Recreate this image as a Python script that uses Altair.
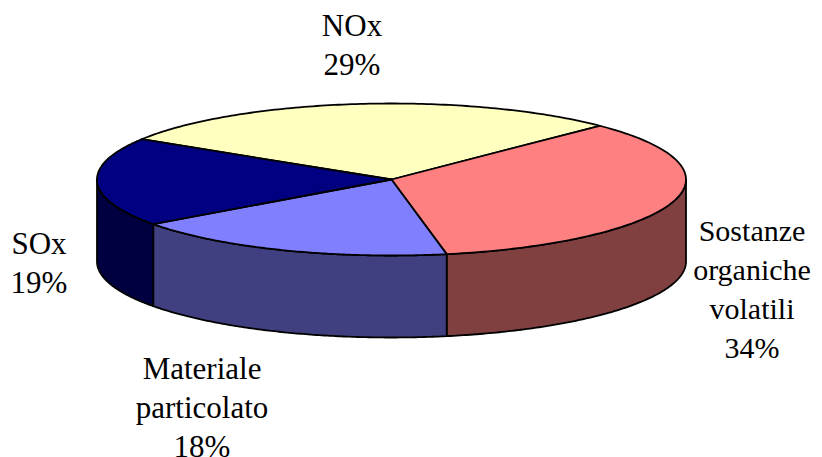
import numpy as np
import altair as alt

parts = ["NOx", "Sostanze organiche volatili", "Materiale particolato", "SOx"]
shares = [28.6, 34.5, 18.0, 18.9]
label_lines = ["NOx\n29%", "Sostanze\norganiche\nvolatili\n34%", "Materiale\nparticolato\n18%", "SOx\n19%"]
top_colors = ["#FFFFC0", "#FF8080", "#8080FF", "#000080"]
wall_colors = ["#808060", "#804040", "#404080", "#000040"]
OFFSET = 8
CX, CY, RX, RY, DEPTH = 391.5 - OFFSET, 179.5 - OFFSET, 294.5, 76, 82
START_DEG = -57.96


def ell(deg, drop=0.0):
    r = np.radians(deg)
    return [float(CX + RX * np.sin(r)), float(CY - RY * np.cos(r) + drop)]


def feature(ring, fill):
    return {"type": "Feature", "properties": {"fill": fill},
            "geometry": {"type": "Polygon", "coordinates": [ring + [ring[0]]]}}


edges = START_DEG + np.cumsum([0] + shares) * 3.6
walls, tops = [], []
for i in range(len(parts)):
    a0, a1 = edges[i], edges[i + 1]
    arc = np.linspace(a0, a1, 120)
    tops.append(feature([[CX, CY]] + [ell(a) for a in arc], top_colors[i]))
    lo, hi = max(a0, 90.0), min(a1, 270.0)
    if lo < hi:
        w = np.linspace(lo, hi, 120)
        walls.append(feature([ell(a) for a in w] + [ell(a, DEPTH) for a in w[::-1]], wall_colors[i]))

proj = alt.Projection(type="identity", scale=1, translate=[0, 0])


def shapes(features):
    return alt.Chart(alt.InlineData(values={"type": "FeatureCollection", "features": features},
                                    format=alt.DataFormat(property="features", type="json"))
                     ).mark_geoshape(stroke="black", strokeWidth=1.8, strokeJoin="round"
                     ).encode(fill=alt.Fill("properties.fill:N", scale=None)).project(**proj.to_dict())


def label(i, x, y, size=31):
    return alt.Chart(alt.Data(values=[{"t": label_lines[i]}])).mark_text(
        font="Liberation Serif", fontSize=size, lineHeight=39, lineBreak="\n",
        align="center", baseline="top", color="black"
    ).encode(text="t:N", x=alt.value(x - OFFSET), y=alt.value(y - OFFSET))


chart = alt.layer(
    shapes(walls), shapes(tops),
    label(0, 352, 12), label(1, 752, 217, 30), label(2, 202, 355), label(3, 39, 230),
).properties(width=806, height=452, padding=0, autosize=alt.AutoSizeParams(type="none")
).configure_view(stroke=None)

chart.save("out.html", embed_options={"renderer": "svg", "actions": False})
